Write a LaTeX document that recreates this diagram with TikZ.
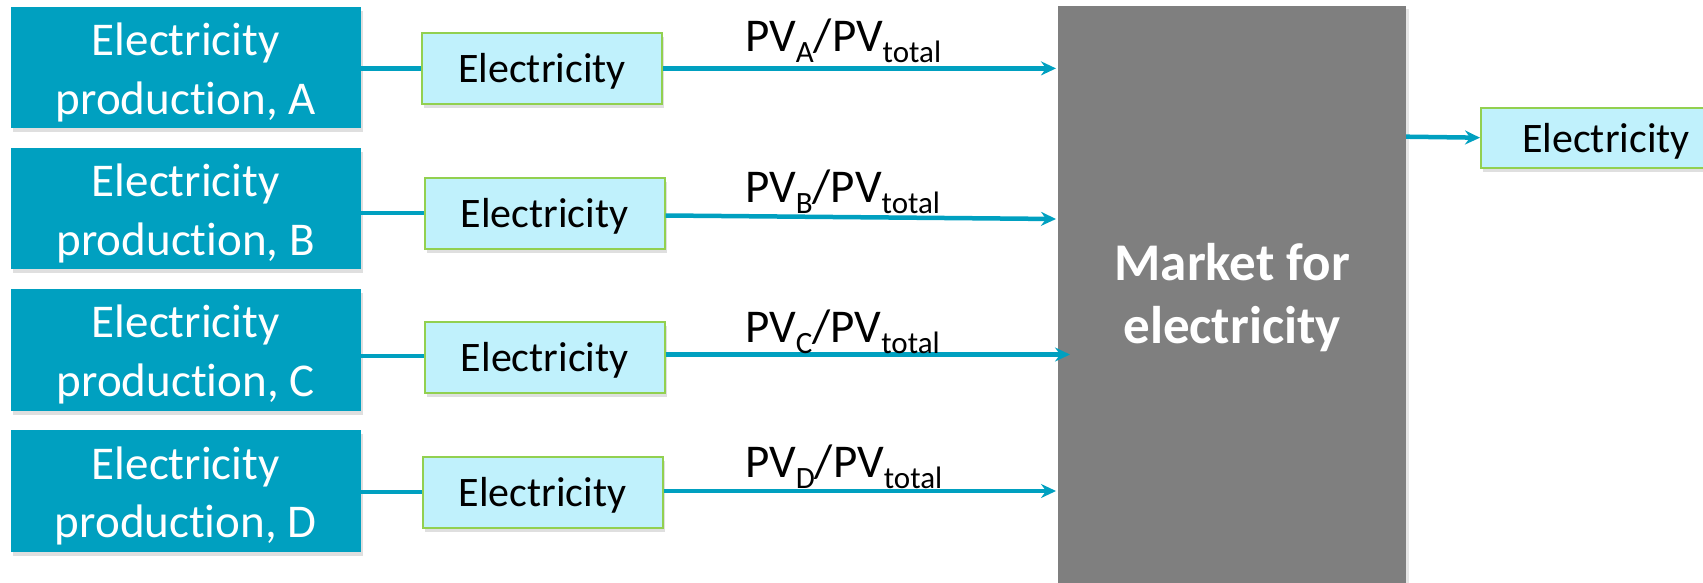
\documentclass[tikz,border=0pt]{standalone}
\usepackage{fontspec}
\setmainfont[Ligatures={NoCommon}]{Carlito}
\usetikzlibrary{arrows.meta,shadows}
\definecolor{teal}{RGB}{0,160,192}
\definecolor{lightcyan}{RGB}{192,241,252}
\definecolor{boxgreen}{RGB}{146,208,80}
\definecolor{marketgray}{RGB}{127,127,127}
\tikzset{
  prodtext/.style={text=white, align=center, inner sep=0pt,
    font=\fontsize{47}{58.6}\selectfont, yshift=-5pt},
  prodbox/.style={rectangle, fill=teal,
    minimum width=349.7pt, minimum height=121.7pt, inner sep=0pt,
    drop shadow={shadow xshift=2pt, shadow yshift=-4pt, opacity=0.25},
    label={[prodtext]center:#1}},
  elecbox/.style={rectangle, fill=lightcyan, draw=boxgreen, line width=2pt,
    minimum width=240pt, minimum height=71pt, inner sep=0pt,
    text height=36pt, text depth=8pt,
    font=\fontsize{42}{50}\selectfont,
    drop shadow={shadow xshift=2pt, shadow yshift=-4pt, opacity=0.25}},
  markettext/.style={text=white, align=center, inner sep=0pt,
    font=\fontsize{53}{63.3}\selectfont\bfseries, yshift=9pt},
  marketbox/.style={rectangle, fill=marketgray,
    minimum width=347.5pt, minimum height=600pt, inner sep=0pt,
    drop shadow={shadow xshift=3pt, shadow yshift=-3pt, opacity=0.2},
    label={[markettext]center:#1}},
  flow/.style={draw=teal, line width=4.5pt},
  flowarrow/.style={flow, -{Stealth[length=15pt,width=14pt,inset=5pt]}},
  pvlabel/.style={anchor=base west, inner sep=0pt, font=\fontsize{47}{50}\selectfont},
}
\newcommand{\pvsub}[1]{\raisebox{-11pt}{\fontsize{31}{31}\selectfont #1}}
\begin{document}
\begin{tikzpicture}[x=1pt,y=-1pt]
\useasboundingbox (0,0) rectangle (1703,583);
\clip (0,0) rectangle (1703,583);
% production boxes
\node[prodbox={Electricity\\production, A}] (pA) at (185.75,67.4) {};
\node[prodbox={Electricity\\production, B}] (pB) at (185.75,208.5) {};
\node[prodbox={Electricity\\production, C}] (pC) at (185.75,349.7) {};
\node[prodbox={Electricity\\production, D}] (pD) at (185.75,490.9) {};
% electricity boxes
\node[elecbox] (sA) at (542,68.5) {Electricity};
\node[elecbox] (sB) at (544.6,213.5) {Electricity};
\node[elecbox] (sC) at (544.7,357.4) {Electricity};
\node[elecbox] (sD) at (542.6,492) {Electricity};
% market
\node[marketbox={Market for\\electricity}] (mk) at (1232.2,306.5) {};
% output box
\node[elecbox, minimum width=250pt, minimum height=60pt] (out) at (1606,138.3) {Electricity};
% connectors
\draw[flow] (pA.east |- 0,68.4) -- (sA.west |- 0,68.4);
\draw[flow] (pB.east |- 0,213) -- (sB.west |- 0,213);
\draw[flow] (pC.east |- 0,356) -- (sC.west |- 0,356);
\draw[flow] (pD.east |- 0,492) -- (sD.west |- 0,492);
\coordinate (tA) at (1056,68.4);
\coordinate (tB) at (1056,219);
\coordinate (tC) at (1070,354.5);
\coordinate (tD) at (1056,491);
\draw[flowarrow] (sA.east |- tA) -- (tA);
\draw[flowarrow] (sB.east |- 0,215.5) -- (tB);
\draw[flowarrow] (sC.east |- tC) -- (tC);
\draw[flowarrow] (sD.east |- tD) -- (tD);
\draw[flowarrow] (mk.east |- 0,136.7) -- (out.west |- 0,137.7);
% labels
\node[pvlabel] (lA) at (745,52) {PV\pvsub{A}/PV\pvsub{total}};
\node[pvlabel] (lB) at (745,202) {PV\pvsub{B}/PV\pvsub{total}};
\node[pvlabel] (lC) at (745,342) {PV\pvsub{C}/PV\pvsub{total}};
\node[pvlabel] (lD) at (745,477.7) {PV\pvsub{D}/PV\pvsub{total}};
\end{tikzpicture}
\end{document}
